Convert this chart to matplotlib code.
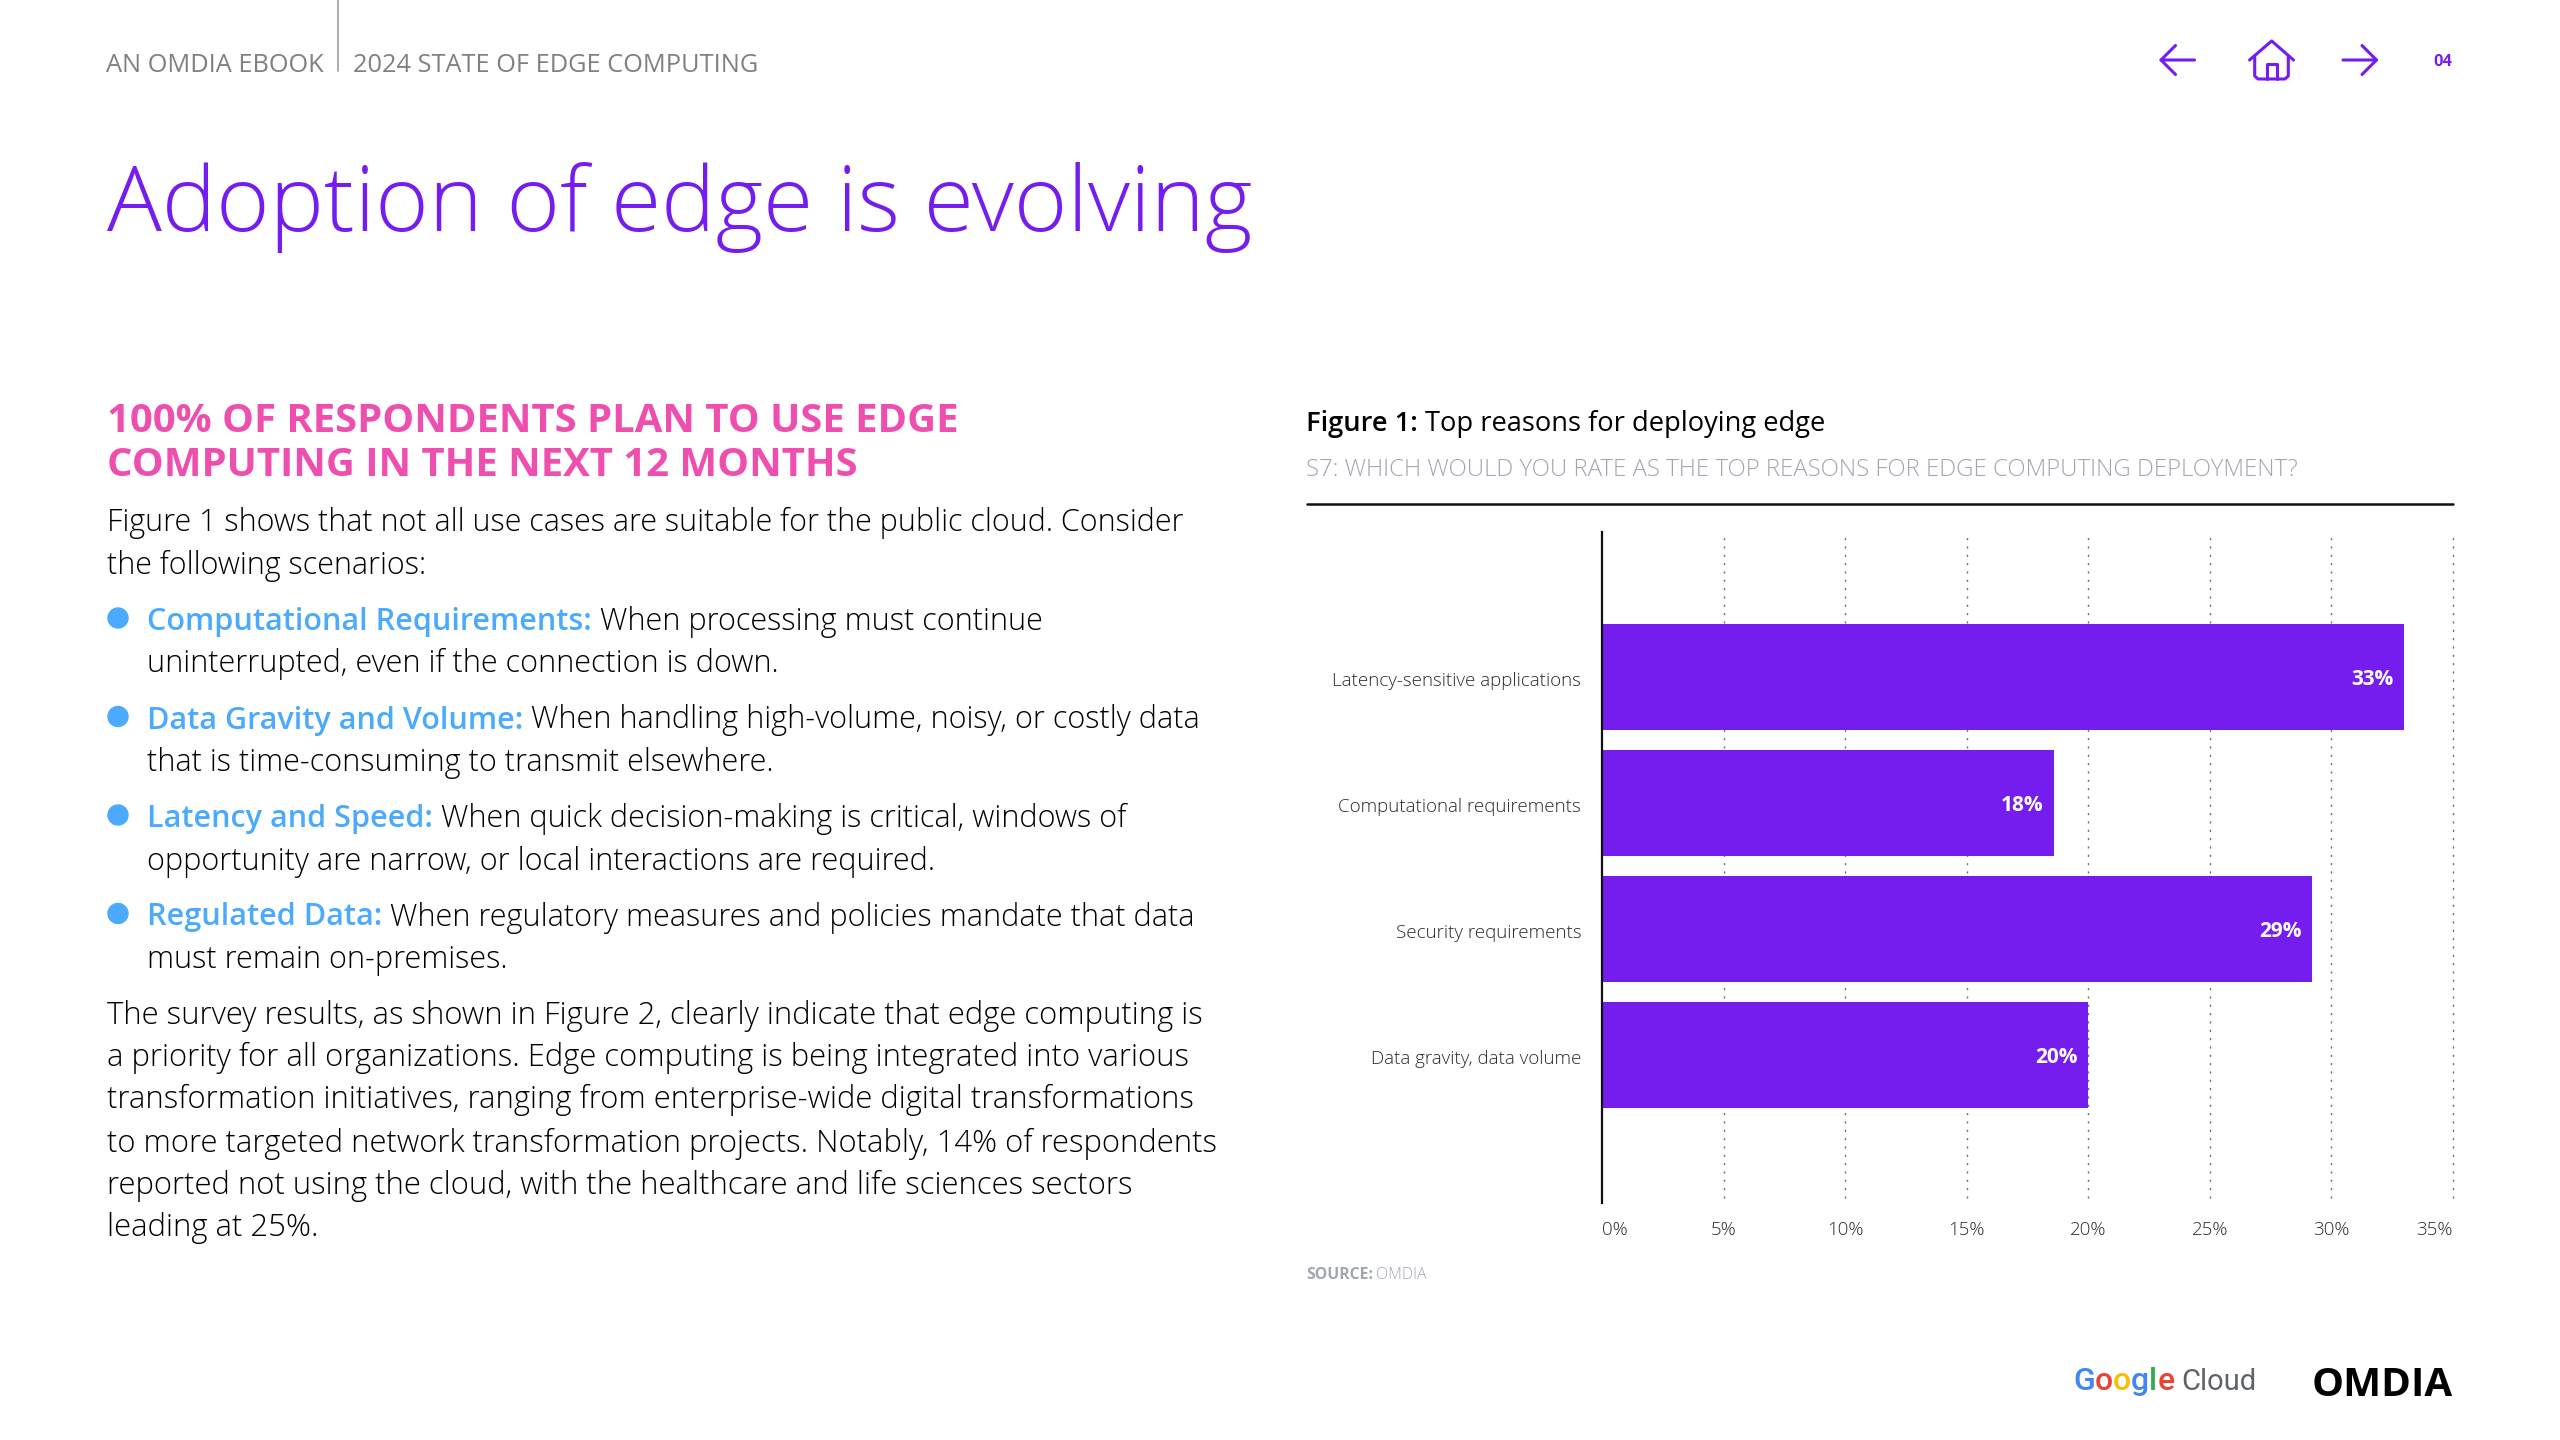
import matplotlib
matplotlib.use('Agg')
import matplotlib.pyplot as plt
from matplotlib.lines import Line2D
from matplotlib.patches import Circle
from matplotlib.transforms import ScaledTranslation

W, H = 2560, 1440
PURPLE = '#751DEE'
PINK = '#EE4FAE'
BLUE = '#4BAAFD'
PALE = '#A2A6B2'
FONT = 'Open Sans'

# chart data
reasons = ['Latency-sensitive applications', 'Computational requirements',
           'Security requirements', 'Data gravity, data volume']
shares = [33.0, 18.6, 29.2, 20.0]
share_labels = ['33%', '18%', '29%', '20%']
x_ticks = [0, 5, 10, 15, 20, 25, 30, 35]
x_tick_labels = ['0%', '5%', '10%', '15%', '20%', '25%', '30%', '35%']

# left column text
heading = ['100% OF RESPONDENTS PLAN TO USE EDGE', 'COMPUTING IN THE NEXT 12 MONTHS']
intro = ['Figure 1 shows that not all use cases are suitable for the public cloud. Consider',
         'the following scenarios:']
bullets = [
    ('Computational Requirements:', 'When processing must continue',
     'uninterrupted, even if the connection is down.'),
    ('Data Gravity and Volume:', 'When handling high-volume, noisy, or costly data',
     'that is time-consuming to transmit elsewhere.'),
    ('Latency and Speed:', 'When quick decision-making is critical, windows of',
     'opportunity are narrow, or local interactions are required.'),
    ('Regulated Data:', 'When regulatory measures and policies mandate that data',
     'must remain on-premises.'),
]
closing = ['The survey results, as shown in Figure 2, clearly indicate that edge computing is',
           'a priority for all organizations. Edge computing is being integrated into various',
           'transformation initiatives, ranging from enterprise-wide digital transformations',
           'to more targeted network transformation projects. Notably, 14% of respondents',
           'reported not using the cloud, with the healthcare and life sciences sectors',
           'leading at 25%.']
google_letters = [('G', '#4285F4'), ('o', '#EA4335'), ('o', '#FBBC05'),
                  ('g', '#4285F4'), ('l', '#34A853'), ('e', '#EA4335')]

fig = plt.figure(figsize=(W / 100, H / 100), dpi=100, facecolor='white')
renderer = fig.canvas.get_renderer()


# all page furniture is placed in pixels, y measured from the top
def put(x, y, s, size, color='black', weight='normal', ha='left', family=FONT):
    return fig.text(x / W, 1 - y / H, s, fontsize=size, color=color, fontweight=weight,
                    ha=ha, va='baseline', family=family)


def run(x, y, parts, size, gap=None):
    # several coloured or bold pieces on one baseline
    if gap is None:
        gap = size * 0.36
    for s, color, weight in parts:
        t = put(x, y, s, size, color, weight)
        x += t.get_window_extent(renderer).width + gap
    return x


def stroke(xs, ys, color=PURPLE, lw=2.2):
    fig.add_artist(Line2D([a / W for a in xs], [1 - b / H for b in ys], color=color, lw=lw,
                          solid_capstyle='round', solid_joinstyle='round'))


# header
put(106, 71.5, 'AN OMDIA EBOOK', 18.25, '#808080')
put(353, 71.5, '2024 STATE OF EDGE COMPUTING', 18.25, '#808080')
stroke([338, 338], [0, 71], '#A6A6A6', 1.3)
put(107, 231, 'Adoption of edge is evolving', 65.8, PURPLE, 'light')

# nav icons
stroke([2194.5, 2161, 2175.5], [60, 60, 45.5])
stroke([2175.5, 2161], [74.5, 60])
stroke([2343, 2376.5, 2362], [60, 60, 45.5])
stroke([2362, 2376.5], [74.5, 60])
stroke([2249.5, 2271.7, 2293.5], [60, 41, 60])
stroke([2254.7, 2254.7, 2258, 2285, 2288.3, 2288.3], [56, 76, 79, 79, 76, 56])
stroke([2266.7, 2266.7, 2276.7, 2276.7], [79, 63.5, 63.5, 79])
put(2443, 66, '04', 12, PURPLE, 'bold', ha='center', family='Roboto')

# left column
for y, s in zip([432.5, 475.5], heading):
    put(107, y, s, 28.8, PINK, 'bold')

for y, s in zip([531, 573.5], intro):
    put(107, y, s, 22.0, 'black', 'light')

BODY = 22.1
bullet_y = [(630, 672.5), (728.5, 771), (827, 869.5), (925.5, 968)]
for (y1, y2), (lead, rest, second) in zip(bullet_y, bullets):
    fig.add_artist(Circle((118, H - y1 + 12), 10, color=BLUE, transform=None))
    run(147, y1, [(lead, BLUE, 'semibold'), (rest, 'black', 'light')], BODY)
    put(147, y2, second, BODY, 'black', 'light')

for y, s in zip([1023.5, 1066, 1108.5, 1151.5, 1194, 1236.5], closing):
    put(107, y, s, 22.3, 'black', 'light')

# figure header
run(1306, 431.5, [('Figure 1:', 'black', 'semibold'), ('Top reasons for deploying edge', 'black', 'normal')], 19.6)
put(1306, 476.5, 'S7: WHICH WOULD YOU RATE AS THE TOP REASONS FOR EDGE COMPUTING DEPLOYMENT?', 17.3, PALE, 'light')
stroke([1307, 2453], [504.5, 504.5], '#111111', 1.8)

# chart
ax = fig.add_axes([1602 / W, 1 - 1203 / H, (2453 - 1602) / W, (1203 - 532) / H])
y_pos = range(len(reasons))
ax.vlines(x_ticks[1:], 0.0075, 0.9925, transform=ax.get_xaxis_transform(), color='#6E6E6E',
          lw=1, linestyles=(0, (1.5, 4.5)), zorder=1, clip_on=False)
ax.barh(y_pos, shares, height=0.847, color=PURPLE, zorder=2)
ax.set_xlim(0, 35)
ax.set_ylim(4.175, -1.15)
for sp in ['top', 'right', 'bottom']:
    ax.spines[sp].set_visible(False)
ax.spines['left'].set_linewidth(1.6)
ax.spines['left'].set_color('#111111')
ax.spines['left'].set_zorder(3)
ax.set_yticks(list(y_pos))
ax.set_yticklabels(reasons, fontsize=13.5, color='#2B2B2B', fontweight='light', family=FONT,
                   va='center_baseline')
ax.tick_params(axis='y', length=0, pad=15)
# tick labels sit a touch under the bar centres
nudge = ScaledTranslation(0, -2 / 100, fig.dpi_scale_trans)
for lab in ax.get_yticklabels():
    lab.set_transform(lab.get_transform() + nudge)
ax.set_xticks(x_ticks)
ax.set_xticklabels(x_tick_labels, fontsize=13.5, color='#2B2B2B', fontweight='light', family=FONT)
ax.tick_params(axis='x', length=0, pad=13)
ax.get_xticklabels()[0].set_ha('left')
ax.get_xticklabels()[-1].set_ha('right')
for i, (v, lab) in enumerate(zip(shares, share_labels)):
    ax.annotate(lab, (v, i), xytext=(-7.5, -2), textcoords='offset points', ha='right', va='center',
                color='white', fontsize=15, fontweight='bold', family=FONT, zorder=4)

run(1306, 1279, [('SOURCE:', PALE, 'bold'), ('OMDIA', PALE, 'light')], 11.4, gap=3)

# logos
x = 2073
for s, c in google_letters:
    t = put(x, 1390, s, 23, c, 'medium', family='Roboto')
    x += t.get_window_extent(renderer).width
put(x + 7, 1390, 'Cloud', 21, '#5F6368', 'normal', family='Roboto')
put(2312, 1396, 'OMDIA', 29, 'black', 'bold')

fig.savefig('out.png', dpi=100)
